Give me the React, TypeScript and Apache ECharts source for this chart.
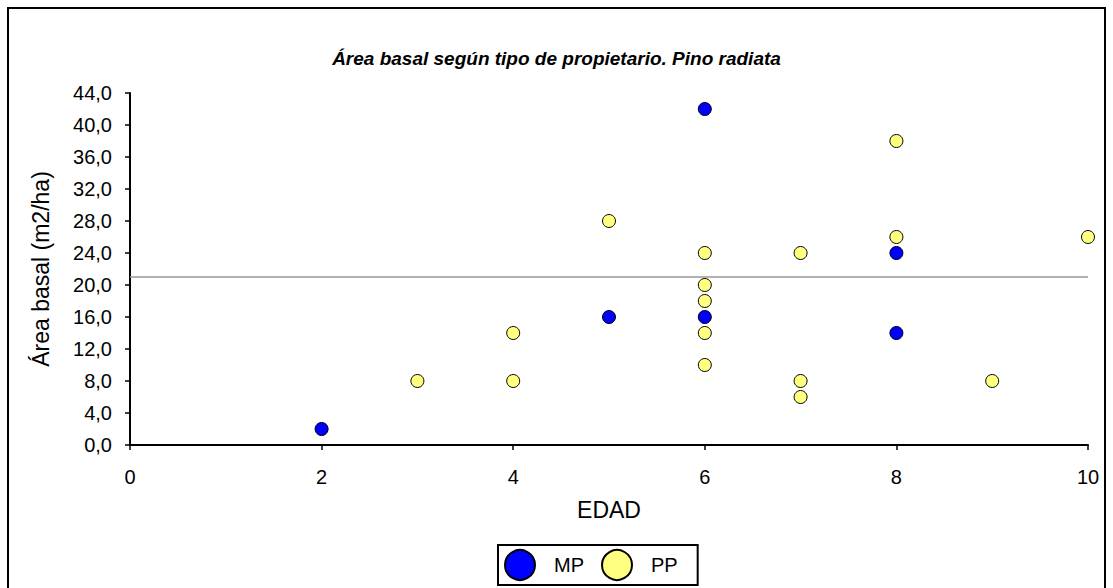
import React, { useEffect, useRef } from "react";
import * as echarts from "echarts";

const mpEdad = [2, 5, 6, 6, 8, 8];
const mpArea = [2, 16, 42, 16, 24, 14];
const ppEdad = [3, 4, 4, 5, 6, 6, 6, 6, 6, 7, 7, 7, 8, 8, 9, 10];
const ppArea = [8, 14, 8, 28, 24, 20, 18, 14, 10, 24, 8, 6, 38, 26, 8, 26];
const refLine = 21;
const titleText = "Área basal según tipo de propietario. Pino radiata";
const yName = "Área basal (m2/ha)";
const xName = "EDAD";

export default function App() {
  const ref = useRef<HTMLDivElement>(null);
  useEffect(() => {
    if (!ref.current) return;
    const chart = echarts.init(ref.current, null, { renderer: "svg" });
    const font = "'Liberation Sans', Arial, sans-serif";
    const pts = (xs: number[], ys: number[]) => xs.map((x, i) => [x, ys[i]]);
    chart.setOption({
      animation: false,
      textStyle: { fontFamily: font },
      title: {
        text: titleText,
        left: "center",
        top: 44,
        textStyle: { fontSize: 19, fontWeight: "bold", fontStyle: "italic", color: "#000", fontFamily: font },
      },
      graphic: [
        {
          type: "rect",
          shape: { x: 8, y: 8, width: 1097, height: 590 },
          style: { fill: "none", stroke: "#000", lineWidth: 2 },
          silent: true,
        },
      ],
      legend: {
        left: 498,
        top: 545,
        orient: "horizontal",
        data: ["MP", "PP"],
        icon: "circle",
        itemWidth: 30,
        itemHeight: 30,
        itemGap: 17,
        borderColor: "#000",
        borderWidth: 2,
        padding: [4, 20, 4, 6],
        textStyle: { fontSize: 20, color: "#000", fontFamily: font, padding: [0, 0, 0, 14] },
      },
      grid: { left: 130, right: 25, top: 93, bottom: 143 },
      xAxis: {
        type: "value",
        min: 0,
        max: 10,
        interval: 2,
        offset: 10,
        name: xName,
        nameLocation: "middle",
        nameGap: 43,
        nameTextStyle: { fontSize: 23, color: "#000", fontFamily: font },
        axisLine: { show: true, lineStyle: { color: "#000", width: 2 } },
        axisTick: { show: true, length: 5, lineStyle: { color: "#000", width: 1.5 } },
        axisLabel: { fontSize: 20, color: "#000", margin: 12, fontFamily: font },
        splitLine: { show: false },
      },
      yAxis: {
        type: "value",
        min: 0,
        max: 44,
        interval: 4,
        offset: 11,
        name: yName,
        nameLocation: "middle",
        nameGap: 67,
        nameTextStyle: { fontSize: 23, color: "#000", fontFamily: font },
        axisLine: { show: true, lineStyle: { color: "#000", width: 2 } },
        axisTick: { show: true, length: 5, lineStyle: { color: "#000", width: 1.5 } },
        axisLabel: {
          fontSize: 20,
          color: "#000",
          margin: 7,
          fontFamily: font,
          formatter: (v: number) => v.toFixed(1).replace(".", ","),
        },
        splitLine: { show: false },
      },
      series: [
        {
          name: "MP",
          type: "scatter",
          data: pts(mpEdad, mpArea),
          symbol: "circle",
          symbolSize: 13,
          itemStyle: { color: "#0000FF", borderColor: "#000", borderWidth: 1, opacity: 1 },
          markLine: {
            silent: true,
            symbol: "none",
            label: { show: false },
            lineStyle: { color: "#999", width: 1.5, type: "solid" },
            data: [{ yAxis: refLine }],
          },
          z: 3,
        },
        {
          name: "PP",
          type: "scatter",
          data: pts(ppEdad, ppArea),
          symbol: "circle",
          symbolSize: 13,
          itemStyle: { color: "#FFFF80", borderColor: "#000", borderWidth: 1, opacity: 1 },
          z: 3,
        },
      ],
    });
    return () => chart.dispose();
  }, []);
  return (
    <div
      ref={ref}
      style={{ position: "fixed", left: 0, top: 0, width: 1113, height: 588, background: "#fff" }}
    />
  );
}
